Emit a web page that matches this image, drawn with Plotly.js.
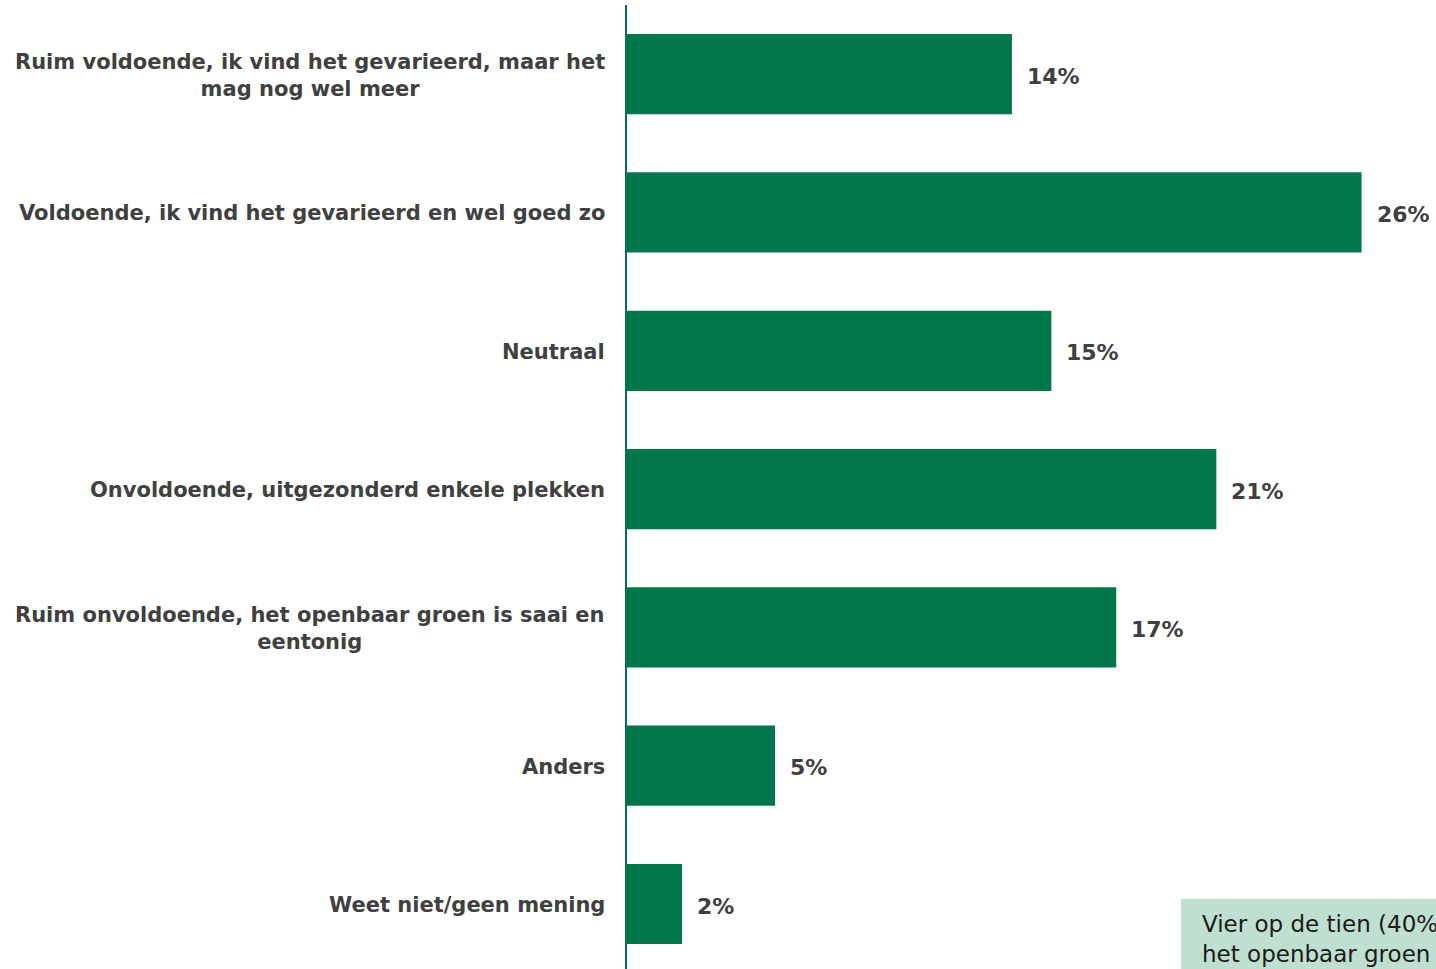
<!DOCTYPE html>
<html>
<head>
<meta charset="utf-8">
<script src="https://cdn.plot.ly/plotly-3.0.1.min.js"></script>
<style>html,body{margin:0;padding:0;background:#fff;}#chart{width:1436px;height:969px;}</style>
</head>
<body>
<div id="chart"></div>
<script>
const categories = [
  "Ruim voldoende, ik vind het gevarieerd, maar het<br>mag nog wel meer",
  "Voldoende, ik vind het gevarieerd en wel goed zo",
  "Neutraal",
  "Onvoldoende, uitgezonderd enkele plekken",
  "Ruim onvoldoende, het openbaar groen is saai en<br>eentonig",
  "Anders",
  "Weet niet/geen mening"
];
const values = [13.65, 26.05, 15.05, 20.9, 17.35, 5.25, 1.95];
const valueLabels = ["14%", "26%", "15%", "21%", "17%", "5%", "2%"];
const calloutText = "Vier op de tien (40%) vindt dat<br>het openbaar groen onvoldoende gevarieerd is";

const green = "#00774A";
const textColor = "#404040";
const font = "DejaVu Sans, Verdana, sans-serif";

const annotations = [];
categories.forEach((c, i) => {
  annotations.push({
    x: 0, xref: "paper", y: i, yref: "y",
    text: "<b>" + c + "</b>", showarrow: false,
    xanchor: "right", yanchor: "middle", align: "center", xshift: -20, yshift: -1,
    font: {family: font, size: 21, color: textColor}
  });
  annotations.push({
    x: values[i], xref: "x", y: i, yref: "y",
    text: "<b>" + valueLabels[i] + "</b>", showarrow: false,
    xanchor: "left", yanchor: "middle", xshift: 13, yshift: -2,
    font: {family: font, size: 22, color: textColor}
  });
});
annotations.push({
  x: 0.6848, xref: "paper", y: 0.0726, yref: "paper",
  xanchor: "left", yanchor: "top", align: "left",
  text: calloutText, showarrow: false,
  font: {family: font, size: 23, color: "#1a1a1a"},
  borderpad: 0, xshift: 20, yshift: -11
});

const trace = {
  type: "bar", orientation: "h",
  x: values, y: categories.map((c, i) => i),
  marker: {color: green},
  hoverinfo: "none"
};

const layout = {
  width: 1436, height: 969,
  margin: {l: 627, r: 0, t: 5, b: 0},
  paper_bgcolor: "#fff", plot_bgcolor: "#fff",
  bargap: 0.42,
  showlegend: false,
  xaxis: {range: [0, 28.69], visible: false, showgrid: false, zeroline: false},
  yaxis: {
    range: [6.47, -0.5], showticklabels: false, ticks: "",
    showgrid: false, zeroline: false,
    showline: true, linecolor: green, linewidth: 2
  },
  shapes: [{
    type: "rect", xref: "paper", yref: "paper",
    x0: 0.6848, x1: 1.2, y0: -0.01, y1: 0.0726,
    fillcolor: "#BFDFD1", line: {width: 0}, layer: "below"
  }],
  annotations: annotations
};

Plotly.newPlot("chart", [trace], layout, {displayModeBar: false, staticPlot: true});
</script>
</body>
</html>
